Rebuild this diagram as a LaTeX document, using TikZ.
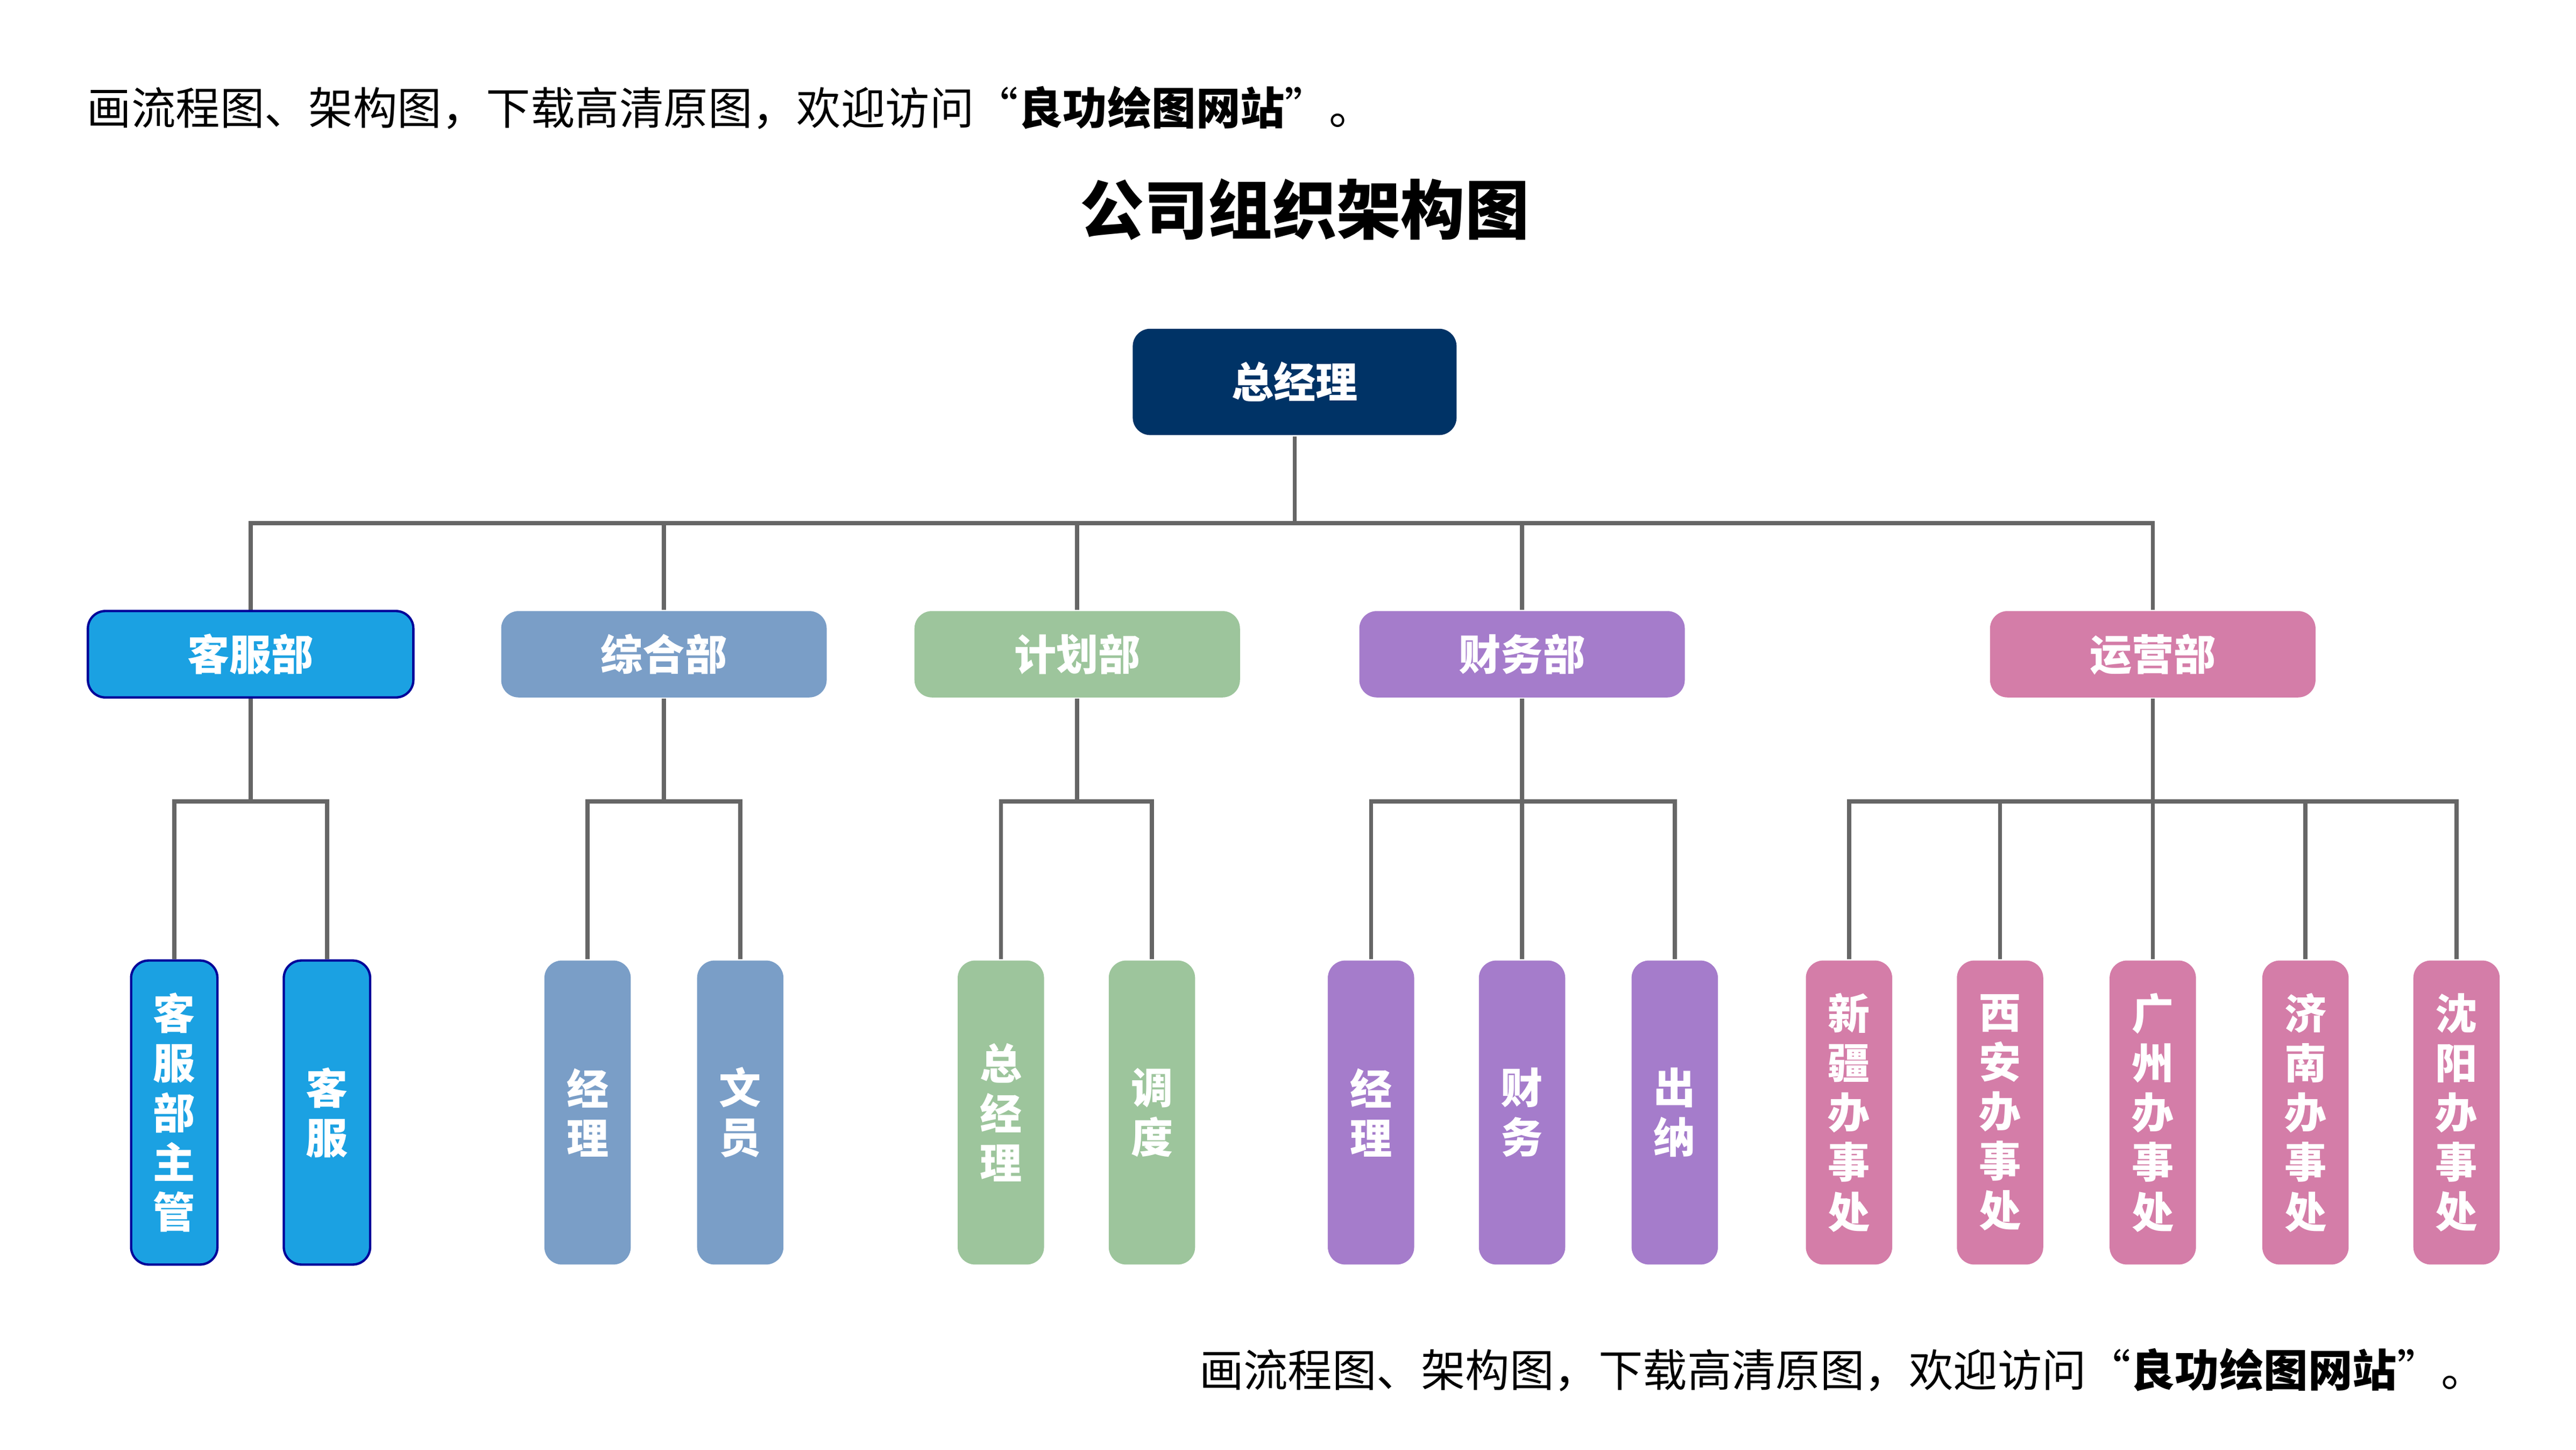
\documentclass[tikz,border=0pt]{standalone}
\usepackage{fontspec}
\newfontfamily\cjk{Noto Sans CJK SC}
\definecolor{navy}{HTML}{003366}
\definecolor{kfblue}{HTML}{1BA1E2}
\definecolor{zhblue}{HTML}{7A9EC7}
\definecolor{jhgreen}{HTML}{9DC59C}
\definecolor{cwpurple}{HTML}{A57CCB}
\definecolor{yypink}{HTML}{D47DA8}
\tikzset{
  box/.style={rounded corners=3pt,text=white,font=\cjk\bfseries\fontsize{7.2}{8.5}\selectfont,inner sep=0pt},
  dept/.style={box,minimum width=1.96cm,minimum height=0.52cm},
  leaf/.style={box,minimum width=0.52cm,minimum height=1.83cm,align=center},
  link/.style={draw=black!60,line width=0.7pt}
}
\begin{document}
\begin{tikzpicture}[x=0.01cm,y=-0.01cm]
\useasboundingbox (0,0) rectangle (1552,873);
% texts
\node[anchor=west,font=\cjk\fontsize{7.6}{9}\selectfont] (top) at (40,65) {画流程图、架构图，下载高清原图，欢迎访问“\textbf{良功绘图网站}”。};
\node[font=\cjk\bfseries\fontsize{11}{13}\selectfont] (title) at (786,126) {公司组织架构图};
\node[anchor=east,font=\cjk\fontsize{7.6}{9}\selectfont] (bottom) at (1510,825) {画流程图、架构图，下载高清原图，欢迎访问“\textbf{良功绘图网站}”。};
% boss
\node[box,fill=navy,minimum width=1.95cm,minimum height=0.64cm] (ceo) at (780,230) {总经理};
% departments
\node[dept,fill=kfblue,draw=blue!60!black,line width=0.4pt] (kf) at (151,394) {客服部};
\node[dept,fill=zhblue] (zh) at (400,394) {综合部};
\node[dept,fill=jhgreen] (jh) at (649,394) {计划部};
\node[dept,fill=cwpurple] (cw) at (917,394) {财务部};
\node[dept,fill=yypink] (yy) at (1297,394) {运营部};
\coordinate (bus) at (780,315);
\draw[link] (ceo) -- (bus);
\foreach \d in {kf,zh,jh,cw,yy}
  \draw[link] (\d.north) |- (bus);
% leaves
\node[leaf,fill=kfblue,draw=blue!60!black,line width=0.4pt] (kf1) at (105,670) {客\\服\\部\\主\\管};
\node[leaf,fill=kfblue,draw=blue!60!black,line width=0.4pt] (kf2) at (197,670) {客\\服};
\node[leaf,fill=zhblue] (zh1) at (354,670) {经\\理};
\node[leaf,fill=zhblue] (zh2) at (446,670) {文\\员};
\node[leaf,fill=jhgreen] (jh1) at (603,670) {总\\经\\理};
\node[leaf,fill=jhgreen] (jh2) at (694,670) {调\\度};
\node[leaf,fill=cwpurple] (cw1) at (826,670) {经\\理};
\node[leaf,fill=cwpurple] (cw2) at (917,670) {财\\务};
\node[leaf,fill=cwpurple] (cw3) at (1009,670) {出\\纳};
\node[leaf,fill=yypink] (yy1) at (1114,670) {新\\疆\\办\\事\\处};
\node[leaf,fill=yypink] (yy2) at (1205,670) {西\\安\\办\\事\\处};
\node[leaf,fill=yypink] (yy3) at (1297,670) {广\\州\\办\\事\\处};
\node[leaf,fill=yypink] (yy4) at (1389,670) {济\\南\\办\\事\\处};
\node[leaf,fill=yypink] (yy5) at (1480,670) {沈\\阳\\办\\事\\处};
\foreach \d/\ks in {kf/{1,2},zh/{1,2},jh/{1,2},cw/{1,2,3},yy/{1,2,3,4,5}}{
  \coordinate (\d-bus) at ([shift={(0,62)}]\d.south);
  \draw[link] (\d.south) -- (\d-bus);
  \foreach \k in \ks
    \draw[link] (\d\k.north) |- (\d-bus);
}
\end{tikzpicture}
\end{document}
